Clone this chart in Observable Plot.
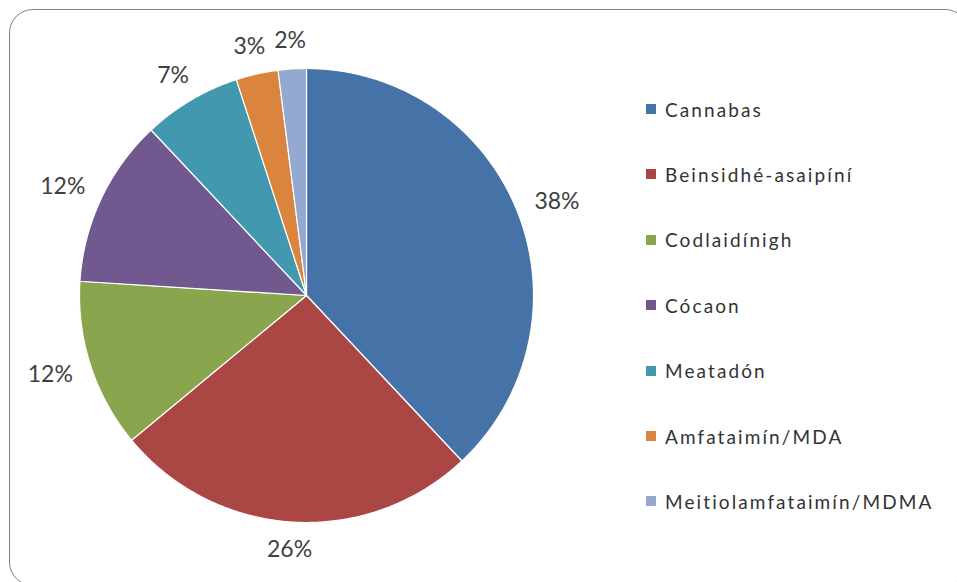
<!DOCTYPE html>
<html><head><meta charset="utf-8">
<script src="https://cdn.jsdelivr.net/npm/d3@7"></script>
<script src="https://cdn.jsdelivr.net/npm/@observablehq/plot@0.6"></script>
<style>
body{margin:0;background:#fff;width:957px;height:582px;overflow:hidden;position:relative;font-family:Lato,"Open Sans",sans-serif}
#frame{position:absolute;left:9px;top:9px;width:960px;height:577px;border:1.5px solid #808080;border-radius:24px;box-sizing:border-box}
#chart{position:absolute;left:0;top:0}
#legend{position:absolute;left:0;top:0}
.item{position:absolute;left:646px;display:flex;align-items:center;height:24px;font-size:19px;letter-spacing:2.1px;color:#333;white-space:nowrap}
.sw{width:10px;height:10px;margin-right:9px;flex:none}
</style></head>
<body>
<div id="frame"></div>
<div id="chart"></div>
<div id="legend"></div>
<script>
const categories = ["Cannabas","Beinsidhé-asaipíní","Codlaidínigh","Cócaon","Meatadón","Amfataimín/MDA","Meitiolamfataimín/MDMA"];
const shares = [38,26,12,12,7,3,2];
const colors = ["#4572A7","#AA4643","#89A54E","#71588F","#4198AF","#DB843D","#93A9CF"];

const R = 227; // pie radius in px (layout)
const labelFont = "23px Lato";
const ctx = document.createElement("canvas").getContext("2d");
ctx.font = labelFont;

const total = d3.sum(shares);
const pts = [];
const labels = [];
let acc = 0;
categories.forEach((c, i) => {
  const a0 = acc / total * 2 * Math.PI;
  acc += shares[i];
  const a1 = acc / total * 2 * Math.PI;
  pts.push({cat: c, x: 0, y: 0});
  const n = Math.max(2, Math.ceil((a1 - a0) / 0.01));
  for (let k = 0; k <= n; k++) {
    const a = a0 + (a1 - a0) * k / n;
    pts.push({cat: c, x: Math.sin(a), y: Math.cos(a)});
  }
  pts.push({cat: c, x: 0, y: 0});
  const am = (a0 + a1) / 2;
  const text = shares[i] + "%";
  const w = ctx.measureText(text).width + text.length * 1.2;
  const h = 20;
  const rr = (R + 18) / R;
  labels.push({
    cat: c, text,
    x: Math.sin(am) * rr + Math.sin(am) * (w / 2) / R,
    y: Math.cos(am) * rr + Math.cos(am) * (h / 2) / R
  });
});

const chart = Plot.plot({
  width: 957,
  height: 582,
  margin: 0,
  x: {domain: [-1, 1], range: [306 - R, 306 + R], axis: null},
  y: {domain: [-1, 1], range: [295 + R, 295 - R], axis: null},
  color: {domain: categories, range: colors},
  style: {background: "transparent", overflow: "visible"},
  marks: [
    Plot.line(pts, {x: "x", y: "y", z: "cat", fill: "cat", stroke: "white", strokeWidth: 1.2, curve: "linear"}),
    Plot.text(labels, {x: "x", y: "y", text: "text", fontSize: 23, fill: "#404040", fontFamily: "Lato", textAnchor: "middle", lineAnchor: "middle", style: "letter-spacing:1.2px"})
  ]
});
document.getElementById("chart").appendChild(chart);

const color = chart.scale("color");
const leg = document.getElementById("legend");
categories.forEach((c, i) => {
  const d = document.createElement("div");
  d.className = "item";
  d.style.top = (109 + i * 65.4 - 12) + "px";
  const s = document.createElement("span");
  s.className = "sw";
  s.style.background = color.apply(c);
  const t = document.createElement("span");
  t.textContent = c;
  d.appendChild(s); d.appendChild(t);
  leg.appendChild(d);
});
</script>
</body></html>
